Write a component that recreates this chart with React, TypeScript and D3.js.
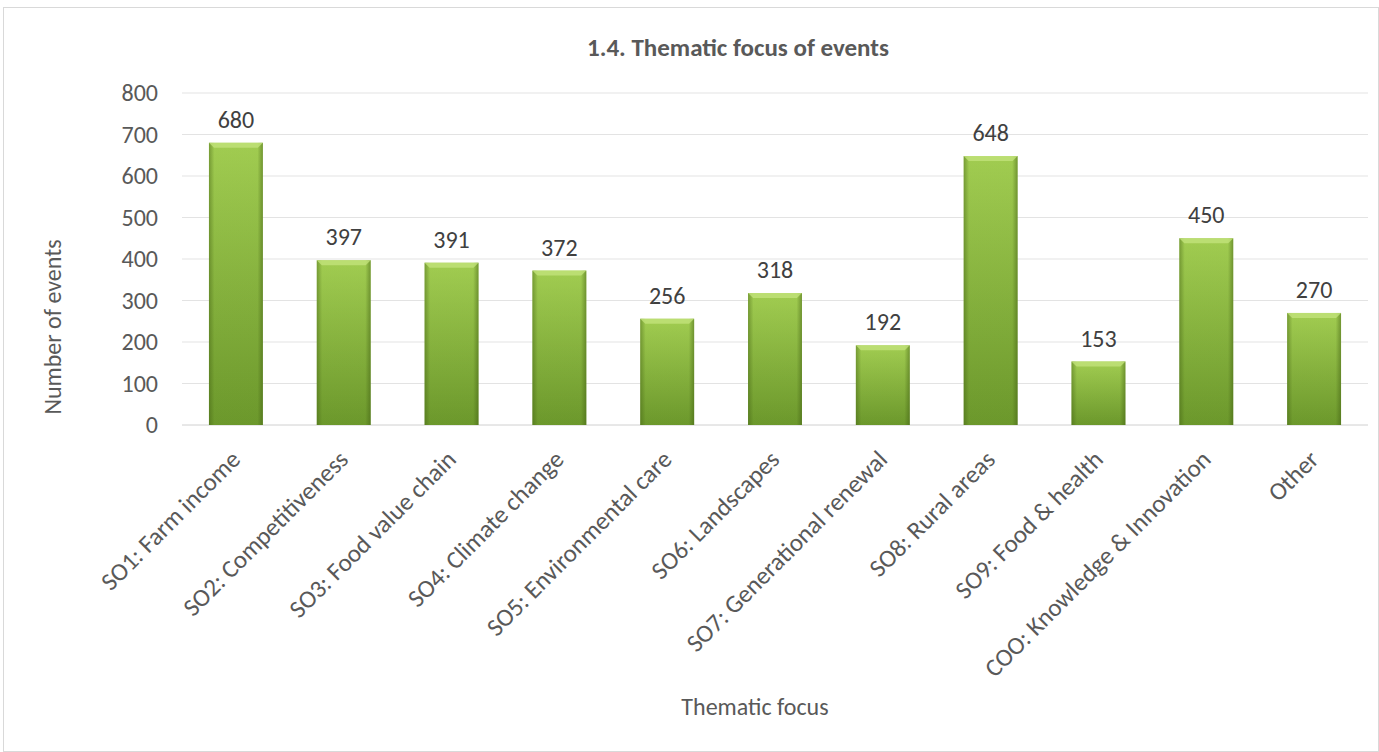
import React from "react";
import * as d3 from "d3";

const categories = [
  "SO1: Farm income",
  "SO2: Competitiveness",
  "SO3: Food value chain",
  "SO4: Climate change",
  "SO5: Environmental care",
  "SO6: Landscapes",
  "SO7: Generational renewal",
  "SO8: Rural areas",
  "SO9: Food & health",
  "COO: Knowledge & Innovation",
  "Other",
];
const values = [680, 397, 391, 372, 256, 318, 192, 648, 153, 450, 270];
const yTicks = [0, 100, 200, 300, 400, 500, 600, 700, 800];

const W = 1379;
const H = 752;
const left = 182;
const right = 1368;
const top = 93;
const bottom = 425;
const font = "Carlito, Calibri, 'Open Sans', 'Liberation Sans', sans-serif";

export default function App() {
  const x = d3.scaleBand<string>().domain(categories).range([left, right]).paddingInner(0.5).paddingOuter(0.25);
  const y = d3.scaleLinear().domain([0, 800]).range([bottom, top]);
  const bw = x.bandwidth();
  return (
    <svg width={W} height={H} style={{ position: "absolute", left: 0, top: 0, background: "#fff" }}>
      <defs>
        <linearGradient id="gv" x1="0" y1="0" x2="0" y2="1">
          <stop offset="0" stopColor="#a6d254" />
          <stop offset="1" stopColor="#6e9b2d" />
        </linearGradient>
        <linearGradient id="gh" x1="0" y1="0" x2="1" y2="0">
          <stop offset="0" stopColor="#3d5a10" stopOpacity="0.45" />
          <stop offset="0.1" stopColor="#3d5a10" stopOpacity="0.05" />
          <stop offset="0.9" stopColor="#3d5a10" stopOpacity="0.05" />
          <stop offset="1" stopColor="#3d5a10" stopOpacity="0.5" />
        </linearGradient>
      </defs>
      <rect x={3.5} y={7.5} width={W - 4} height={H - 8} fill="#fff" stroke="#d9d9d9" />
      <text x={738} y={56} textAnchor="middle" fontFamily={font} fontWeight="bold" fontSize={25} fill="#595959">
        1.4. Thematic focus of events
      </text>
      {yTicks.map((t) => (
        <g key={t}>
          <line x1={left} x2={right} y1={y(t)} y2={y(t)} stroke={t === 0 ? "#d0d0d0" : "#e3e3e3"} strokeWidth={1} />
          <text x={158} y={y(t)} dy="0.35em" textAnchor="end" fontFamily={font} fontSize={24} fill="#595959">
            {t}
          </text>
        </g>
      ))}
      {categories.map((c, i) => {
        const x0 = x(c)!;
        const y0 = y(values[i]);
        const h = bottom - y0;
        const cx = x0 + bw / 2;
        return (
          <g key={c}>
            <rect x={x0} y={y0} width={bw} height={h} fill="url(#gv)" />
            <rect x={x0} y={y0} width={bw} height={h} fill="url(#gh)" />
            <polygon
              points={`${x0},${y0} ${x0 + bw},${y0} ${x0 + bw - 5},${y0 + 5} ${x0 + 5},${y0 + 5}`}
              fill="#c2e27a"
              opacity={0.8}
            />
            <text x={cx} y={y0 - 15} textAnchor="middle" fontFamily={font} fontSize={24} fill="#404040">
              {values[i]}
            </text>
            <text
              transform={`translate(${cx + 6},${bottom + 36}) rotate(-45)`}
              textAnchor="end"
              fontFamily={font}
              fontSize={25}
              fill="#595959"
            >
              {c}
            </text>
          </g>
        );
      })}
      <text
        transform={`translate(61,${327}) rotate(-90)`}
        textAnchor="middle"
        fontFamily={font}
        fontSize={24}
        fill="#595959"
      >
        Number of events
      </text>
      <text x={755} y={715} textAnchor="middle" fontFamily={font} fontSize={24} fill="#595959">
        Thematic focus
      </text>
    </svg>
  );
}
